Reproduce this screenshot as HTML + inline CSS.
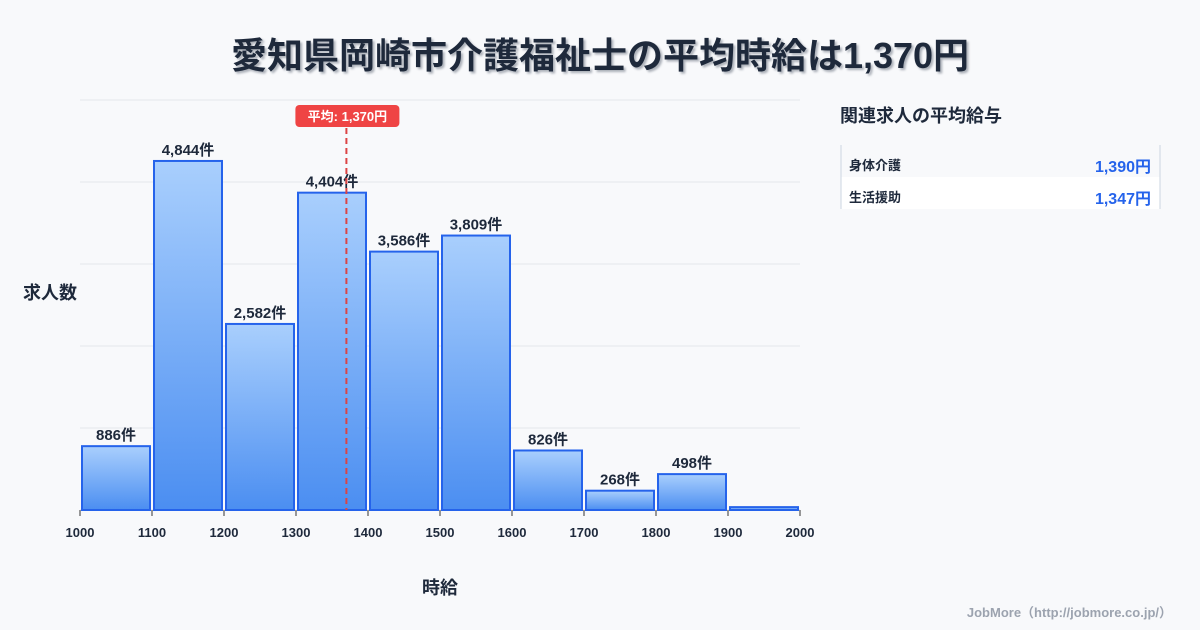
<!DOCTYPE html>
<html><head><meta charset="utf-8"><style>
body{margin:0;width:1200px;height:630px;background:#f8f9fb;font-family:"Liberation Sans","Noto Sans CJK JP",sans-serif;overflow:hidden;position:relative}
.t{position:absolute;left:0;width:1200px;top:27px;text-align:center;font-size:36px;font-weight:bold;color:#1e293b;text-shadow:2px 2px 2px rgba(30,41,59,0.35)}
</style></head><body>
<div class="t">愛知県岡崎市介護福祉士の平均時給は1,370円</div>
<svg width="1200" height="630" style="position:absolute;left:0;top:0">
<defs><linearGradient id="g" x1="0" y1="0" x2="0" y2="1"><stop offset="0" stop-color="#a9cffd"/><stop offset="1" stop-color="#4b8ef1"/></linearGradient></defs>
<g id="grid"></g><g id="bars"></g><g id="labels"></g><g id="ticks"></g>
<text x="50" y="299" text-anchor="middle" font-size="18" font-weight="bold" fill="#1e293b">求人数</text>
<text x="440" y="594" text-anchor="middle" font-size="18" font-weight="bold" fill="#1e293b">時給</text>
<g id="avg"></g>
<text x="840" y="122" font-size="18" font-weight="bold" fill="#1e293b">関連求人の平均給与</text>
<rect x="841" y="145" width="319" height="32" fill="#f8f9fb"/>
<rect x="841" y="177" width="319" height="32" fill="#ffffff"/>
<line x1="841" y1="145" x2="841" y2="209" stroke="#cbd5e1"/><line x1="1160" y1="145" x2="1160" y2="209" stroke="#cbd5e1"/>
<text x="849" y="170" font-size="13" font-weight="bold" fill="#1e293b">身体介護</text>
<text x="1151" y="172" text-anchor="end" font-size="16" font-weight="bold" fill="#2563eb">1,390円</text>
<text x="849" y="202" font-size="13" font-weight="bold" fill="#1e293b">生活援助</text>
<text x="1151" y="204" text-anchor="end" font-size="16" font-weight="bold" fill="#2563eb">1,347円</text>
<text x="1172" y="617" text-anchor="end" font-size="13" font-weight="bold" fill="#9ca3af">JobMore（http://jobmore.co.jp/）</text>
</svg>
<script>
const bins=[1000,1100,1200,1300,1400,1500,1600,1700,1800,1900,2000];
const counts=[886,4844,2582,4404,3586,3809,826,268,498,40];
const labels=["886件","4,844件","2,582件","4,404件","3,586件","3,809件","826件","268件","498件",""];
const avgValue=1370;
const avgLabel="平均: 1,370円";
const NS="http://www.w3.org/2000/svg";
const X0=80,X1=800,Y0=510,YT=100,yMax=5690;
const x=v=>X0+(v-1000)/1000*(X1-X0);
const y=v=>Y0-v/yMax*(Y0-YT);
function mk(t,a,p){const e=document.createElementNS(NS,t);for(const k in a)e.setAttribute(k,a[k]);document.getElementById(p).appendChild(e);return e;}
for(let i=0;i<=5;i++){const gy=YT+i*(Y0-YT)/5;const l=mk('line',{x1:X0,x2:X1,y1:gy,y2:gy,stroke:i==5?'#ddd':'#e5e7eb'},'grid');

}
counts.forEach((c,i)=>{const x0=x(bins[i])+2,x1=x(bins[i+1])-2;
const r=mk('rect',{x:x0,y:y(c),width:x1-x0,height:Y0-y(c),fill:'url(#g)',stroke:'#2563eb','stroke-width':2},'bars');


const t=mk('text',{x:(x0+x1)/2,y:y(c)-6,'text-anchor':'middle','font-size':15,'font-weight':'bold',fill:'#1e293b'},'labels');t.textContent=labels[i];

});
bins.forEach(b=>{mk('line',{x1:x(b),x2:x(b),y1:Y0,y2:Y0+6,stroke:'#333'},'ticks');
const t=mk('text',{x:x(b),y:537,'text-anchor':'middle','font-size':13,'font-weight':'bold',fill:'#1e293b'},'ticks');t.textContent=b;

});
const ax=x(avgValue);
const al=mk('line',{x1:ax,x2:ax,y1:128,y2:Y0,stroke:'#dc4444','stroke-width':2,'stroke-dasharray':'6,4'},'avg');


const ab=mk('rect',{x:ax-51,y:105,width:104,height:22,rx:4,fill:'#ef4444'},'avg');


const at=mk('text',{x:ax+1,y:121,'text-anchor':'middle','font-size':13,'font-weight':'bold',fill:'#fff'},'avg');at.textContent=avgLabel;
</script>
</body></html>
